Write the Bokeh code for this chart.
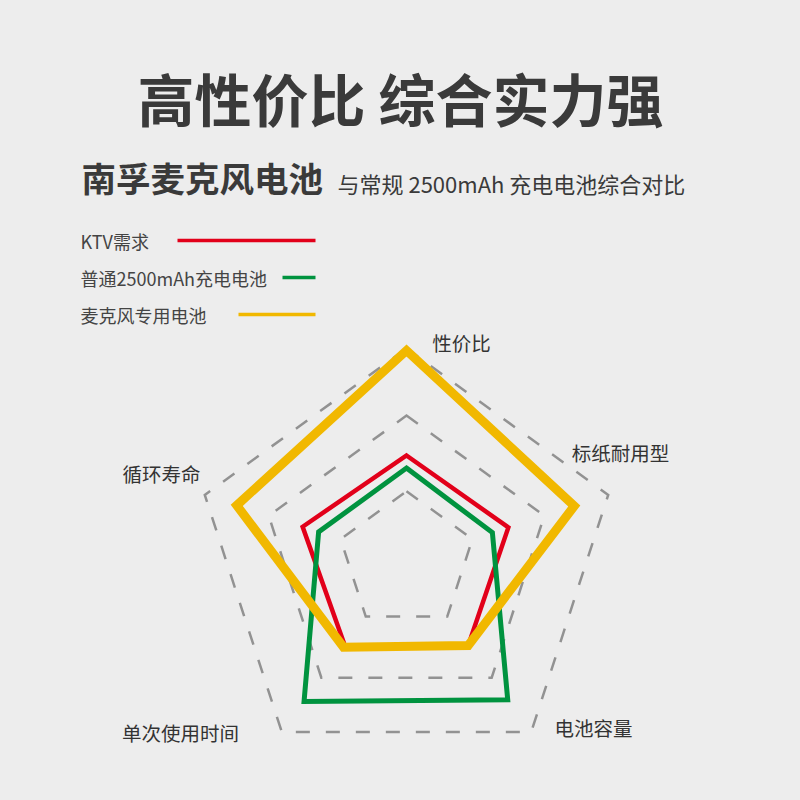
import numpy as np
from bokeh.plotting import figure
from bokeh.models import Range1d
from bokeh.core.properties import value
from bokeh.embed import file_html
from bokeh.resources import INLINE

# ---------------- data ----------------
axes_labels = ["性价比", "标纸耐用型", "电池容量", "单次使用时间", "循环寿命"]
series_names = ["KTV需求", "普通2500mAh充电电池", "麦克风专用电池"]
ktv_values = [50, 51, 50, 50, 52]
normal_values = [44, 43, 82, 83, 44]
mic_values = [100, 84, 50, 51, 85]
grid_levels = [33, 69, 101]
value_max = 100

title_text = "高性价比 综合实力强"
subtitle_main = "南孚麦克风电池"
subtitle_small = "与常规 2500mAh 充电电池综合对比"

# ---------------- layout / style ----------------
FONT = "Noto Sans CJK SC"
BG = "#ededed"
CX, CY, R = 406, 560, 210
colors = {"KTV需求": "#e2001a", "普通2500mAh充电电池": "#00933f", "麦克风专用电池": "#f1b800"}
widths = {"KTV需求": 4.5, "普通2500mAh充电电池": 5, "麦克风专用电池": 9}

n = len(axes_labels)
angles = np.pi / 2 - 2 * np.pi * np.arange(n) / n


def to_xy(vals):
    r = np.asarray(vals, dtype=float) / value_max * R
    return list(CX + r * np.cos(angles)), list(CY - r * np.sin(angles))


p = figure(width=784, height=784, output_backend="svg", toolbar_location=None,
           x_range=Range1d(0, 784), y_range=Range1d(784, 0), min_border=0)
p.axis.visible = False
p.grid.visible = False
p.outline_line_color = None
p.background_fill_color = BG
p.border_fill_color = BG

# grid rings
gx, gy = [], []
for lv in grid_levels:
    x, y = to_xy([lv] * n)
    gx.append(x)
    gy.append(y)
p.patches(gx, gy, fill_alpha=0, line_color="#929292", line_width=2.5,
          line_dash="14 16", line_join="miter")

# series
for name, vals in zip(series_names, [ktv_values, normal_values, mic_values]):
    x, y = to_xy(vals)
    p.patch(x, y, fill_alpha=0, line_color=colors[name], line_width=widths[name],
            line_join="miter")

# axis labels (positions relative to centre)
label_offsets = [(55, -218), (214, -108), (187, 167), (-226, 172), (-245, -87)]
p.text(x=[CX + o[0] for o in label_offsets], y=[CY + o[1] for o in label_offsets],
       text=axes_labels, text_font=value(FONT), text_font_size="19.5px",
       text_color="#333333", text_align="center", text_baseline="middle")

# title
p.text(x=[400], y=[96], text=[title_text], text_font=value(FONT), text_font_size="57px",
       text_font_style="bold", text_color="#3a3a3a", text_align="center",
       text_baseline="middle")
p.text(x=[81], y=[176], text=[subtitle_main], text_font=value(FONT), text_font_size="34.5px",
       text_font_style="bold", text_color="#3a3a3a", text_align="left",
       text_baseline="middle")
p.text(x=[337], y=[182], text=[subtitle_small], text_font=value(FONT), text_font_size="22px",
       text_color="#3a3a3a", text_align="left", text_baseline="middle")

# legend
leg_y = [240, 277, 314]
leg_x0 = [177, 282, 238]
p.text(x=[80] * 3, y=leg_y, text=series_names, text_font=value(FONT), text_font_size="18px",
       text_color="#444444", text_align="left", text_baseline="middle")
p.segment(x0=leg_x0, y0=leg_y, x1=[315] * 3, y1=leg_y,
          line_color=[colors[s] for s in series_names], line_width=3.5)

html = file_html(p, INLINE)
html = html.replace("<head>", "<head><style>html,body{background:#ededed;}</style>", 1)
open("out.html", "w").write(html)
